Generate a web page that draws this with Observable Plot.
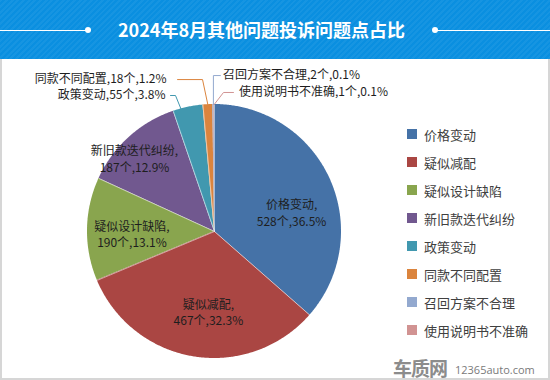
<!DOCTYPE html>
<html><head><meta charset="utf-8">
<script src="https://cdn.jsdelivr.net/npm/d3@7"></script>
<script src="https://cdn.jsdelivr.net/npm/@observablehq/plot@0.6"></script>
<style>
body{margin:0;background:#fff;font-family:'Noto Sans CJK SC','Noto Sans',sans-serif;}
#wrap{position:relative;width:550px;height:380px;overflow:hidden;background:#fff}
#header{position:absolute;left:0;top:0;width:550px;height:59px;background:#0a8fe0;
 background-image:repeating-linear-gradient(135deg,rgba(255,255,255,0.05) 0 2px,rgba(0,0,0,0) 2px 4px);}
#title{position:absolute;left:0;top:0;width:523px;height:59px;line-height:59px;text-align:center;color:#fff;font-weight:bold;font-size:18px;letter-spacing:0px}
.hl{position:absolute;top:29.5px;height:1px;background:#fff}
.hd{position:absolute;top:27px;width:6px;height:6px;border-radius:3px;background:#fff}
#chart{position:absolute;left:0;top:59px}
#frame{position:absolute;left:0;top:59px;width:550px;height:321px;box-sizing:border-box;border:2px solid #d6d6d6;border-top:none;pointer-events:none}
#legend{position:absolute;left:407px;top:120px}
.lrow{display:flex;align-items:center;height:28px}
.lsw{width:10px;height:10px;margin-right:7px}
.ltx{font-size:13px;color:#404040;white-space:nowrap}
#wm1{position:absolute;left:393px;top:354px;font-size:19px;font-weight:bold;color:#8c8c8c;letter-spacing:-1px}
#wm2{position:absolute;left:455px;top:362px;font-size:11px;color:#7a7a7a;font-family:'Open Sans',sans-serif}
</style></head>
<body>
<div id="wrap">
  <div id="header">
    <div class="hl" style="left:0;width:88px"></div><div class="hd" style="left:85px"></div>
    <div class="hd" style="left:432px"></div><div class="hl" style="left:435px;width:115px"></div>
    <div id="title">2024年8月其他问题投诉问题点占比</div>
  </div>
  <div id="chart"></div>
  <div id="legend"></div>
  <div id="wm1">车质网</div><div id="wm2">12365auto.com</div>
  <div id="frame"></div>
</div>
<script>
const categories = ["价格变动","疑似减配","疑似设计缺陷","新旧款迭代纠纷","政策变动","同款不同配置","召回方案不合理","使用说明书不准确"];
const counts = [528,467,190,187,55,18,2,1];
const percents = ["36.5%","32.3%","13.1%","12.9%","3.8%","1.2%","0.1%","0.1%"];
const colors = ["#4572A7","#AA4643","#89A54E","#71588F","#4198AF","#DB843D","#93A9CF","#D19392"];

// layout (style) settings
const R = 127, CX = 214, CY = 231 - 59;
const deg = Math.PI / 180;
const px = v => v / R;
const pol = (a, r) => [r * Math.sin(a), r * Math.cos(a)];

const pie = d3.pie().sort(null).value(d => d)(counts);

// wedges
const wedgePts = [];
pie.forEach((p, i) => {
  const n = Math.max(2, Math.ceil((p.endAngle - p.startAngle) / deg * 2));
  for (let k = 0; k <= n; k++) {
    const a = p.startAngle + (p.endAngle - p.startAngle) * k / n;
    const [x, y] = pol(a, 1);
    wedgePts.push({name: categories[i], x, y, cx: 0, cy: 0});
  }
});
const seps = pie.slice(0, 6).map(p => { const [x, y] = pol(p.startAngle, 1); return {x, y}; });

// inside labels: angle offset (deg) and radius fraction
const insideCfg = [{da: 10.5, r: 0.625}, {da: -5, r: 0.632}, {da: -2.4, r: 0.65}, {da: -5.3, r: 0.855}];
const insideLabels = insideCfg.map((c, i) => {
  const p = pie[i];
  const mid = (p.startAngle + p.endAngle) / 2 + c.da * deg;
  const [x, y] = pol(mid, c.r);
  return {x, y, text: `${categories[i]},\n${counts[i]}个,${percents[i]}`};
});

// outside labels with leader lines
const outsideCfg = {
  4: {sa: 345, sr: 0.96, ea: 344, er: 1.114, hx: -5, gap: 5},
  5: {sa: 357, sr: 1.0, ea: 355.5, er: 1.2, hx: -25, gap: 11},
  6: {sa: null, sr: 1.0, ea: 359.6, er: 1.228, hx: 7, gap: 2.5},
  7: {sa: null, sr: 1.0, ea: 3.7, er: 1.097, hx: 10, gap: 5.5}
};
const leaderPts = [], outLeft = [], outRight = [];
Object.entries(outsideCfg).forEach(([k, c]) => {
  const i = +k, p = pie[i];
  const sa = c.sa == null ? (p.startAngle + p.endAngle) / 2 : c.sa * deg;
  const [x0, y0] = pol(sa, c.sr);
  const [x1, y1] = pol(c.ea * deg, c.er);
  const x2 = x1 + px(c.hx);
  leaderPts.push({name: categories[i], x: x0, y: y0}, {name: categories[i], x: x1, y: y1}, {name: categories[i], x: x2, y: y1});
  const lab = {x: x2 + Math.sign(c.hx) * px(c.gap), y: y1, text: `${categories[i]},${counts[i]}个,${percents[i]}`};
  (c.hx < 0 ? outLeft : outRight).push(lab);
});

const chart = Plot.plot({
  width: 550, height: 321, margin: 0,
  x: {domain: [-1, 1], range: [CX - R, CX + R], axis: null},
  y: {domain: [-1, 1], range: [CY + R, CY - R], axis: null},
  color: {domain: categories, range: colors},
  style: {fontFamily: "'Noto Sans CJK SC', sans-serif", background: "transparent"},
  marks: [
    Plot.area(wedgePts, {x1: "x", y1: "y", x2: "cx", y2: "cy", z: "name", fill: "name"}),
    Plot.link(seps, {x1: 0, y1: 0, x2: "x", y2: "y", stroke: "white", strokeOpacity: 0.75, strokeWidth: 0.7}),
    Plot.line(leaderPts, {x: "x", y: "y", z: "name", stroke: "name", strokeWidth: 1}),
    Plot.text(insideLabels, {x: "x", y: "y", text: "text", lineAnchor: "middle", lineHeight: 1.4, fontSize: 12, fill: "#1e1e1e"}),
    Plot.text(outLeft, {x: "x", y: "y", text: "text", textAnchor: "end", lineAnchor: "middle", fontSize: 12, fill: "#1e1e1e"}),
    Plot.text(outRight, {x: "x", y: "y", text: "text", textAnchor: "start", lineAnchor: "middle", fontSize: 12, fill: "#1e1e1e"})
  ]
});
document.getElementById("chart").appendChild(chart);

const lg = document.getElementById("legend");
categories.forEach((c, i) => {
  const row = document.createElement("div"); row.className = "lrow";
  const sw = document.createElement("div"); sw.className = "lsw"; sw.style.background = colors[i];
  const tx = document.createElement("div"); tx.className = "ltx"; tx.textContent = c;
  row.appendChild(sw); row.appendChild(tx); lg.appendChild(row);
});
</script>
</body></html>
